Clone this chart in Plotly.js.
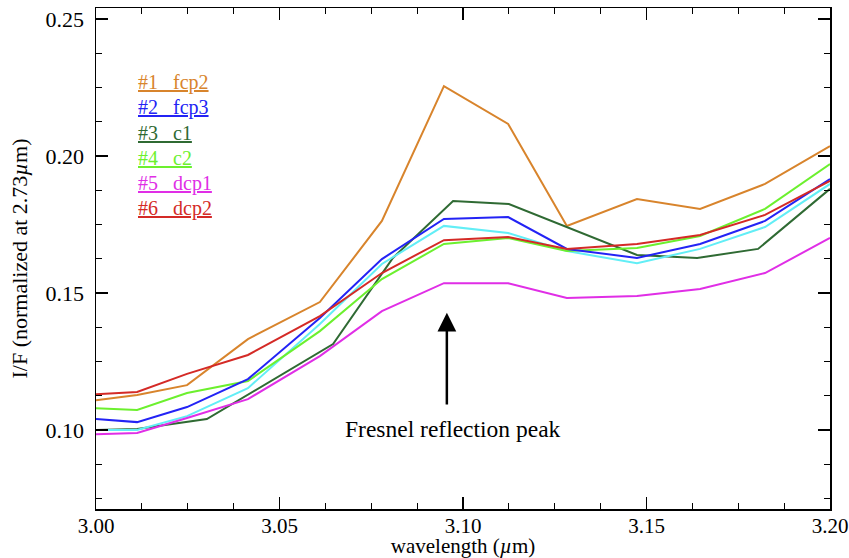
<!DOCTYPE html>
<html>
<head>
<meta charset="utf-8">
<script src="https://cdn.plot.ly/plotly-3.0.1.min.js"></script>
<style>
  html, body { margin: 0; padding: 0; background: #ffffff; }
  #chart { width: 849px; height: 558px; }
</style>
</head>
<body>
<div id="chart"></div>
<script>
// Wavelength samples (µm) shared by most spectra
const wavelength = [3.000, 3.0112, 3.0248, 3.0414, 3.0610, 3.0779, 3.0948, 3.1123, 3.1283, 3.1474, 3.1646, 3.1823, 3.200];
// The c1 spectrum is sampled on its own grid
const wavelengthC1 = [3.000, 3.0112, 3.0302, 3.0646, 3.0809, 3.0973, 3.1125, 3.1474, 3.1638, 3.1804, 3.200];

// Normalized I/F spectra
const fcp2 = [0.1109, 0.1128, 0.1164, 0.1332, 0.1467, 0.1763, 0.2255, 0.2117, 0.1745, 0.1843, 0.1807, 0.1898, 0.2036];
const fcp3 = [0.1040, 0.1029, 0.1084, 0.1186, 0.1409, 0.1624, 0.1770, 0.1777, 0.1661, 0.1628, 0.1679, 0.1763, 0.1916];
const c1   = [0.1000, 0.1004, 0.1040, 0.1314, 0.1628, 0.1836, 0.1825, 0.1639, 0.1628, 0.1661, 0.1880];
const c2   = [0.1080, 0.1073, 0.1135, 0.1179, 0.1361, 0.1551, 0.1679, 0.1701, 0.1653, 0.1664, 0.1708, 0.1807, 0.1971];
const dcp1 = [0.0985, 0.0989, 0.1044, 0.1113, 0.1270, 0.1434, 0.1536, 0.1536, 0.1482, 0.1489, 0.1515, 0.1573, 0.1701];
const dcp2 = [0.1131, 0.1139, 0.1205, 0.1274, 0.1416, 0.1573, 0.1693, 0.1704, 0.1661, 0.1679, 0.1712, 0.1785, 0.1909];
const extra = [0.1000, 0.1000, 0.1051, 0.1153, 0.1387, 0.1606, 0.1745, 0.1719, 0.1653, 0.1609, 0.1661, 0.1741, 0.1898];

// Labels for the numbered spectra
const labels = ['#1\u00a0\u00a0\u00a0fcp2', '#2\u00a0\u00a0\u00a0fcp3', '#3\u00a0\u00a0\u00a0c1', '#4\u00a0\u00a0\u00a0c2', '#5\u00a0\u00a0\u00a0dcp1', '#6\u00a0\u00a0\u00a0dcp2'];

const xTickVals = [3.00, 3.05, 3.10, 3.15, 3.20];
const yTickVals = [0.10, 0.15, 0.20, 0.25];

const colors = {
  fcp2: '#d8842c',
  fcp3: '#2323f5',
  c1:   '#2f6a33',
  c2:   '#6cf02e',
  dcp1: '#e02ee6',
  dcp2: '#d42a26',
  extra: '#62eef6'
};

const FONT = "'Liberation Serif', 'Times New Roman', serif";

function line(x, y, color) {
  return { x: x, y: y, type: 'scatter', mode: 'lines',
           line: { color: color, width: 2 }, hoverinfo: 'skip', showlegend: false };
}

const traces = [
  line(wavelength, fcp2, colors.fcp2),
  line(wavelengthC1, c1, colors.c1),
  line(wavelength, extra, colors.extra),
  line(wavelength, c2, colors.c2),
  line(wavelength, dcp1, colors.dcp1),
  line(wavelength, fcp3, colors.fcp3),
  line(wavelength, dcp2, colors.dcp2)
];

const labelColors = [colors.fcp2, colors.fcp3, colors.c1, colors.c2, colors.dcp1, colors.dcp2];

// Label block in the upper left, one row per spectrum
const annotations = labels.map((t, i) => ({
  xref: 'paper', yref: 'paper',
  x: 0.055, y: 0.852 - i * 0.0505,
  xanchor: 'left', yanchor: 'middle',
  text: '<u>' + t + '</u>',
  showarrow: false,
  font: { family: FONT, size: 20, color: labelColors[i] }
}));

// Arrow pointing at the peak, with its caption below
annotations.push({
  xref: 'x', yref: 'y', axref: 'x', ayref: 'y',
  x: 3.0956, y: 0.1428, ax: 3.0956, ay: 0.1088,
  text: '', showarrow: true,
  arrowhead: 2, arrowsize: 1.5, arrowwidth: 2.5, arrowcolor: '#000000'
});
annotations.push({
  xref: 'x', yref: 'y',
  x: 3.0973, y: 0.1004,
  xanchor: 'center', yanchor: 'middle',
  text: 'Fresnel reflection peak', showarrow: false,
  font: { family: FONT, size: 23.5, color: '#000000' }
});

const axisCommon = {
  showline: true, linecolor: '#000000', linewidth: 1.5,
  mirror: 'ticks', ticks: 'inside', tickcolor: '#000000', tickwidth: 1.2,
  ticklen: 12, showgrid: false, zeroline: false,
  tickfont: { family: FONT, size: 22, color: '#000000' },
  ticklabeloverflow: 'allow',
  tickformat: '.2f'
};

const layout = {
  width: 849, height: 558,
  margin: { l: 96, r: 19, t: 8, b: 49 },
  paper_bgcolor: '#ffffff', plot_bgcolor: '#ffffff',
  font: { family: FONT, color: '#000000' },
  showlegend: false,
  xaxis: Object.assign({}, axisCommon, {
    range: [3.0, 3.2],
    tickmode: 'array', tickvals: xTickVals,
    tickfont: { family: FONT, size: 21, color: '#000000' },
    ticklabelstandoff: -3,
    minor: { ticks: 'inside', ticklen: 6, tickwidth: 1.2, tickcolor: '#000000', dtick: 0.0125, tick0: 3.0, showgrid: false },
    title: { text: 'wavelength (<i>µ</i>m)', font: { family: FONT, size: 21, color: '#000000' }, standoff: 4 }
  }),
  yaxis: Object.assign({}, axisCommon, {
    range: [0.0712, 0.254],
    tickmode: 'array', tickvals: yTickVals,
    ticklabelstandoff: 6,
    minor: { ticks: 'inside', ticklen: 6, tickwidth: 1.2, tickcolor: '#000000', dtick: 0.0125, tick0: 0.10, showgrid: false },
    title: { text: 'I/F (normalized at 2.73<i>µ</i>m)', font: { family: FONT, size: 22, color: '#000000' }, standoff: 12 }
  }),
  annotations: annotations
};

Plotly.newPlot('chart', traces, layout, { displayModeBar: false, staticPlot: true });
</script>
</body>
</html>
